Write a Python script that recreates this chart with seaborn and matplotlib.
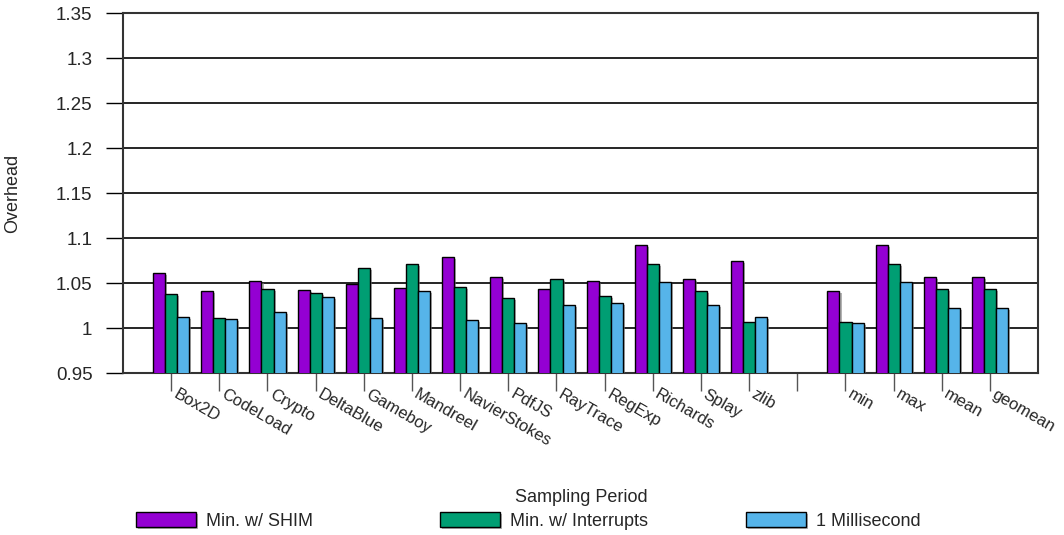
import matplotlib
matplotlib.use("Agg")
import matplotlib.pyplot as plt
import matplotlib.patheffects as pe
import matplotlib.transforms as mtrans
import numpy as np
import pandas as pd
import seaborn as sns

benchmarks = ["Box2D", "CodeLoad", "Crypto", "DeltaBlue", "Gameboy", "Mandreel",
              "NavierStokes", "PdfJS", "RayTrace", "RegExp", "Richards", "Splay",
              "zlib", " ", "min", "max", "mean", "geomean"]

shim = [1.061, 1.041, 1.052, 1.042, 1.049, 1.044, 1.079, 1.057, 1.043, 1.052,
        1.092, 1.055, 1.075, np.nan, 1.041, 1.092, 1.057, 1.057]
interrupts = [1.038, 1.011, 1.043, 1.039, 1.067, 1.071, 1.046, 1.033, 1.054, 1.036,
              1.071, 1.041, 1.007, np.nan, 1.007, 1.071, 1.043, 1.043]
millisecond = [1.012, 1.010, 1.018, 1.034, 1.011, 1.041, 1.009, 1.006, 1.026, 1.028,
               1.051, 1.026, 1.012, np.nan, 1.006, 1.051, 1.022, 1.022]

series = ["Min. w/ SHIM", "Min. w/ Interrupts", "1 Millisecond"]
colors = ["#9400d3", "#009e73", "#56b4e9"]

df = pd.DataFrame({
    "Benchmark": benchmarks * 3,
    "Overhead": shim + interrupts + millisecond,
    "Series": [s for s in series for _ in benchmarks],
})

sns.set_style("white")
plt.rcParams["font.family"] = ["Liberation Sans", "DejaVu Sans"]

fig = plt.figure(figsize=(10.64, 5.35), dpi=100)
ax = fig.add_axes([0.1156, 0.3028, 0.8601, 0.6729])

sns.barplot(data=df, x="Benchmark", y="Overhead", hue="Series", order=benchmarks,
            hue_order=series, palette=colors, width=0.75, gap=0,
            edgecolor="black", linewidth=1, saturation=1, ax=ax, zorder=3)

for bar in ax.patches:
    bar.set_path_effects([pe.SimplePatchShadow(offset=(1.5, -1.5), shadow_rgbFace="gray", alpha=0.6),
                          pe.Normal()])

ax.set_ylim(0.95, 1.35)
ax.set_xlim(-1, 18)
yt = [0.95, 1.0, 1.05, 1.1, 1.15, 1.2, 1.25, 1.3, 1.35]
ax.set_yticks(yt)
ax.set_yticklabels(["0.95", "1", "1.05", "1.1", "1.15", "1.2", "1.25", "1.3", "1.35"], fontsize=13.5)
ax.yaxis.grid(True, color="black", linewidth=1.2, zorder=0)
ax.set_axisbelow(True)
ax.tick_params(axis="y", direction="out", length=12, width=1, color="black", left=True, pad=10)
ax.tick_params(axis="x", direction="out", length=13, width=1, color="#555555", bottom=True)
ax.set_xticks(range(len(benchmarks)))
ax.set_xticklabels([""] * len(benchmarks))

# rotated category labels, hung just right of each tick mark
trans = mtrans.blended_transform_factory(ax.transData, ax.transAxes)
trans = trans + mtrans.ScaledTranslation(7 / 100, -14 / 100, fig.dpi_scale_trans)
for i, name in enumerate(benchmarks):
    ax.text(i, 0, name, transform=trans, rotation=-30, rotation_mode="anchor",
            ha="left", va="top", fontsize=12)

for s in ax.spines.values():
    s.set_color("#333333")
    s.set_linewidth(1.5)

ax.set_xlabel("")
ax.set_ylabel("Overhead", fontsize=13)
ax.yaxis.label.set_va("center")
ax.yaxis.set_label_coords(-0.121, 0.5)

handles, labels = ax.get_legend_handles_labels()
ax.legend_.remove()
for h, lab, x0 in zip(handles, labels, [136, 440, 746]):
    fig.legend([h], [lab], loc="center left", bbox_to_anchor=(x0 / 1064, 1 - 521 / 535),
               frameon=False, fontsize=13, handlelength=3.3, handleheight=0.9,
               handletextpad=0.55, borderpad=0, borderaxespad=0)
fig.text(581 / 1064, 1 - 497 / 535, "Sampling Period", ha="center", va="center", fontsize=13)

fig.savefig("out.png", dpi=100)
